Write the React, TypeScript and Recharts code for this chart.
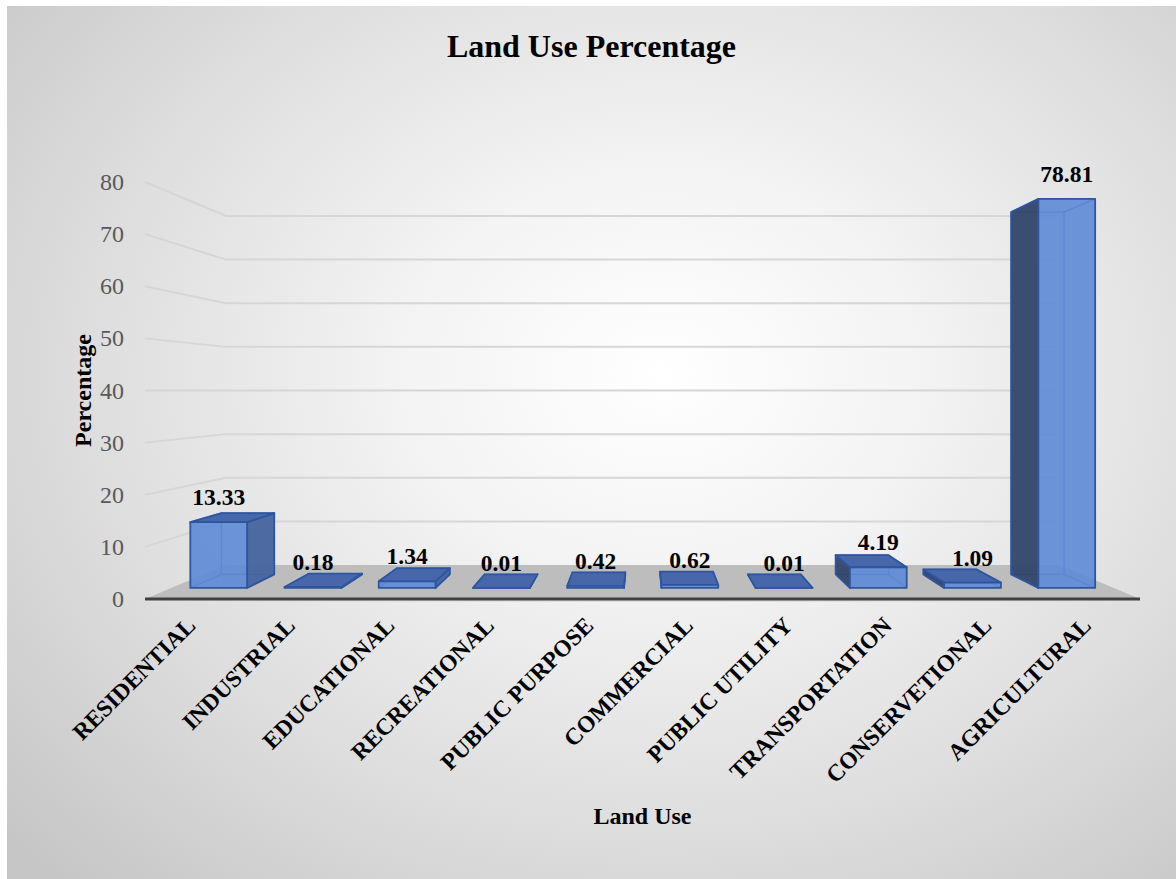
import React from 'react';
import { BarChart, Bar, XAxis, YAxis, CartesianGrid } from 'recharts';

const categories = [
  'RESIDENTIAL',
  'INDUSTRIAL',
  'EDUCATIONAL',
  'RECREATIONAL',
  'PUBLIC PURPOSE',
  'COMMERCIAL',
  'PUBLIC UTILITY',
  'TRANSPORTATION',
  'CONSERVETIONAL',
  'AGRICULTURAL',
];
const percentages = [13.33, 0.18, 1.34, 0.01, 0.42, 0.62, 0.01, 4.19, 1.09, 78.81];
const yTicks = [0, 10, 20, 30, 40, 50, 60, 70, 80];

const data = categories.map((name, i) => ({ name, value: percentages[i] }));

// layout
const W = 1169;
const H = 873;
const MARGIN = { top: 176, right: 36, bottom: 0, left: 58 };
const Y_AXIS_W = 80;
const X_AXIS_H = 280;
const PLOT_L = MARGIN.left + Y_AXIS_W;
const PLOT_R = W - MARGIN.right;
const PLOT_T = MARGIN.top;
const PLOT_B = H - X_AXIS_H;
const VX = (PLOT_L + PLOT_R) / 2;
const VY = (PLOT_T + PLOT_B) / 2;
const S_WALL = 0.837;
const S_FRONT = 0.947;
const S_BACK = 0.882;
const FONT = "'Times New Roman', 'Liberation Serif', serif";

const proj = (x: number, y: number, s: number): [number, number] => [VX + (x - VX) * s, VY + (y - VY) * s];
const pts = (arr: [number, number][]) => arr.map((p) => `${p[0]},${p[1]}`).join(' ');

const GridLine = (props: any) => {
  const { x1, x2, y1, index } = props;
  const bl = proj(x1, y1, S_WALL);
  const br = proj(x2, y1, S_WALL);
  if (Math.abs(y1 - PLOT_B) < 1) {
    return (
      <g key={`floor-${index}`}>
        <polygon points={pts([[x1, y1], [x2, y1], br, bl])} fill="#bdbdbd" />
        <line x1={x1} y1={y1 + 2} x2={x2} y2={y1 + 2} stroke="#e0e0e0" strokeWidth={2} />
        <line x1={x1} y1={y1} x2={x2} y2={y1} stroke="#404040" strokeWidth={3} />
      </g>
    );
  }
  return (
    <g key={`grid-${index}`}>
      <polyline points={pts([[x1, y1], bl, br])} fill="none" stroke="#d6d6d6" strokeWidth={2} />
    </g>
  );
};

const Bar3D = (props: any) => {
  const { x, y, width, height, payload } = props;
  if (x == null || y == null) return null;
  const y0 = y + height;
  const fTL = proj(x, y, S_FRONT);
  const fTR = proj(x + width, y, S_FRONT);
  const fBL = proj(x, y0, S_FRONT);
  const fBR = proj(x + width, y0, S_FRONT);
  const bTL = proj(x, y, S_BACK);
  const bTR = proj(x + width, y, S_BACK);
  const bBL = proj(x, y0, S_BACK);
  const bBR = proj(x + width, y0, S_BACK);
  const cx = x + width / 2;
  const rightVisible = cx < VX;
  const topVisible = y > VY;
  const edge = '#2e56a0';
  const side = rightVisible ? [fTR, bTR, bBR, fBR] : [fTL, bTL, bBL, fBL];
  const sideFill = rightVisible ? '#46639f' : '#33456b';
  const labelPos = proj(cx, y, S_FRONT);
  return (
    <g>
      <polygon points={pts([bTL, bTR, bBR, bBL])} fill="none" stroke="#3f6cc0" strokeWidth={1.2} />
      <line x1={fBL[0]} y1={fBL[1]} x2={bBL[0]} y2={bBL[1]} stroke="#3f6cc0" strokeWidth={1.2} />
      <line x1={fBR[0]} y1={fBR[1]} x2={bBR[0]} y2={bBR[1]} stroke="#3f6cc0" strokeWidth={1.2} />
      <line x1={fTL[0]} y1={fTL[1]} x2={bTL[0]} y2={bTL[1]} stroke="#3f6cc0" strokeWidth={1.2} />
      <line x1={fTR[0]} y1={fTR[1]} x2={bTR[0]} y2={bTR[1]} stroke="#3f6cc0" strokeWidth={1.2} />
      <polygon points={pts(side)} fill={sideFill} fillOpacity={0.95} stroke={edge} strokeWidth={1.8} strokeLinejoin="round" />
      {topVisible && (
        <polygon points={pts([fTL, fTR, bTR, bTL])} fill="#4767aa" stroke={edge} strokeWidth={1.8} strokeLinejoin="round" />
      )}
      <polygon points={pts([fTL, fTR, fBR, fBL])} fill="#5c89d6" fillOpacity={0.9} stroke={edge} strokeWidth={1.8} strokeLinejoin="round" />
      <text
        x={labelPos[0]}
        y={labelPos[1] - 17}
        textAnchor="middle"
        fontFamily={FONT}
        fontWeight="bold"
        fontSize={23.5}
        fill="#000"
      >
        {payload.value.toFixed(2)}
      </text>
    </g>
  );
};

const XTick = (props: any) => {
  const { x, payload } = props;
  const ax = x + 2;
  const ay = PLOT_B + 28;
  return (
    <text
      x={ax}
      y={ay}
      transform={`rotate(-45 ${ax} ${ay})`}
      textAnchor="end"
      fontFamily={FONT}
      fontWeight="bold"
      fontSize={23.5}
      fill="#000"
    >
      {payload.value}
    </text>
  );
};

const YTick = (props: any) => {
  const { y, payload } = props;
  return (
    <text x={PLOT_L - 21} y={y + 8} textAnchor="end" fontFamily={FONT} fontSize={24} fill="#595959">
      {payload.value}
    </text>
  );
};

export default function App() {
  return (
    <div
      style={{
        position: 'absolute',
        left: 7,
        top: 6,
        width: W,
        height: H,
        background: 'radial-gradient(ellipse 75% 80% at 56% 42%, #ffffff 0%, #f3f3f3 30%, #dedede 65%, #c6c6c6 100%)',
      }}
    >
      <div
        style={{
          position: 'absolute',
          left: 0,
          top: 24,
          width: W,
          textAlign: 'center',
          fontFamily: FONT,
          fontWeight: 'bold',
          fontSize: 32,
          lineHeight: '32px',
          color: '#000',
        }}
      >
        Land Use Percentage
      </div>
      <div style={{ position: 'absolute', left: 0, top: 0 }}>
        <BarChart width={W} height={H} data={data} margin={MARGIN} barSize={60}>
          <CartesianGrid horizontal={GridLine} vertical={false} />
          <XAxis
            dataKey="name"
            axisLine={false}
            tickLine={false}
            height={X_AXIS_H}
            interval={0}
            tick={<XTick />}
            label={{
              value: 'Land Use',
              position: 'insideBottom',
              offset: 55,
              style: { fontFamily: FONT, fontWeight: 'bold', fontSize: 24, fill: '#000' },
            }}
          />
          <YAxis
            domain={[0, 80]}
            ticks={yTicks}
            axisLine={false}
            tickLine={false}
            width={Y_AXIS_W}
            tick={<YTick />}
            label={{
              value: 'Percentage',
              angle: -90,
              position: 'insideLeft',
              offset: 17,
              style: { textAnchor: 'middle', fontFamily: FONT, fontWeight: 'bold', fontSize: 24, fill: '#000' },
            }}
          />
          <Bar dataKey="value" isAnimationActive={false} shape={<Bar3D />} />
        </BarChart>
      </div>
    </div>
  );
}
